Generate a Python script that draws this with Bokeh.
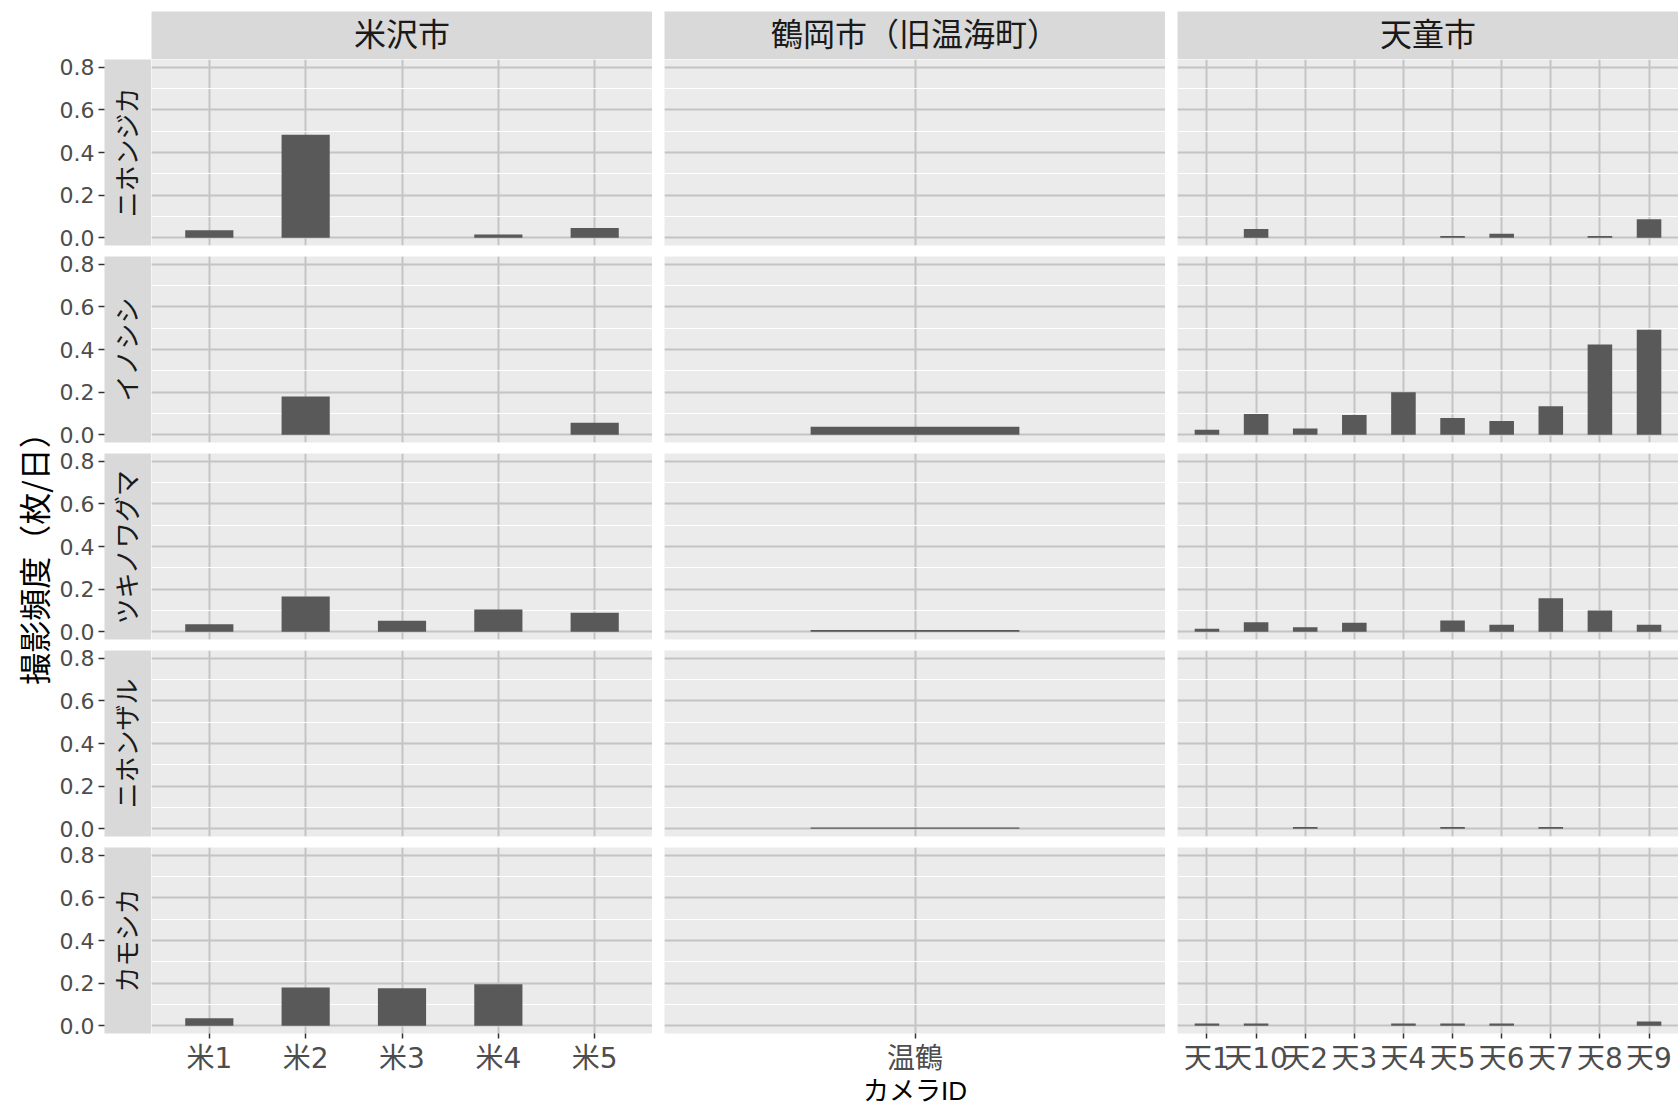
import math
from bokeh.plotting import figure
from bokeh.models import (Range1d, FactorRange, FixedTicker, LinearAxis, CategoricalAxis,
                          PrintfTickFormatter)
from bokeh.layouts import row, column
from bokeh.embed import file_html
from bokeh.resources import INLINE
from bokeh.core.properties import value

# ---------------- data ----------------
areas = ["米沢市", "鶴岡市（旧温海町）", "天童市"]
species = ["ニホンジカ", "イノシシ", "ツキノワグマ", "ニホンザル", "カモシカ"]

cams_yonezawa = ["米1", "米2", "米3", "米4", "米5"]
cams_tsuruoka = ["温鶴"]
cams_tendo = ["天1", "天10", "天2", "天3", "天4", "天5", "天6", "天7", "天8", "天9"]

# rows follow `species`
yonezawa_sika = [0.036, 0.483, 0.0, 0.016, 0.046]
yonezawa_inoshishi = [0.0, 0.180, 0.0, 0.0, 0.057]
yonezawa_kuma = [0.036, 0.166, 0.052, 0.105, 0.089]
yonezawa_saru = [0.0, 0.0, 0.0, 0.0, 0.0]
yonezawa_kamoshika = [0.036, 0.180, 0.176, 0.195, 0.0]

tsuruoka_sika = [0.0]
tsuruoka_inoshishi = [0.038]
tsuruoka_kuma = [0.008]
tsuruoka_saru = [0.006]
tsuruoka_kamoshika = [0.0]

tendo_sika = [0.0, 0.041, 0.0, 0.0, 0.0, 0.008, 0.019, 0.0, 0.008, 0.087]
tendo_inoshishi = [0.024, 0.098, 0.030, 0.093, 0.200, 0.079, 0.065, 0.134, 0.424, 0.493]
tendo_kuma = [0.014, 0.045, 0.022, 0.042, 0.0, 0.053, 0.033, 0.157, 0.100, 0.033]
tendo_saru = [0.0, 0.0, 0.008, 0.0, 0.0, 0.008, 0.0, 0.008, 0.0, 0.0]
tendo_kamoshika = [0.011, 0.011, 0.0, 0.0, 0.011, 0.011, 0.011, 0.0, 0.0, 0.020]

y_ticks = [0.0, 0.2, 0.4, 0.6, 0.8]
y_minor = [0.1, 0.3, 0.5, 0.7]
y_title = "撮影頻度（枚/日）"
x_title = "カメラID"

col_cats = [cams_yonezawa, cams_tsuruoka, cams_tendo]
col_vals = [
    [yonezawa_sika, yonezawa_inoshishi, yonezawa_kuma, yonezawa_saru, yonezawa_kamoshika],
    [tsuruoka_sika, tsuruoka_inoshishi, tsuruoka_kuma, tsuruoka_saru, tsuruoka_kamoshika],
    [tendo_sika, tendo_inoshishi, tendo_kuma, tendo_saru, tendo_kamoshika],
]

# ---------------- geometry / style ----------------
CJK = "Noto Sans CJK JP"
NUM = "DejaVu Sans, Noto Sans CJK JP"
LAT = "Liberation Sans, Noto Sans CJK JP"
Y0, Y1 = -0.036, 0.836
PANEL_W, PANEL_H = 501, 186
GAP = 12
STRIP_W = 47
TITLE_W = 56
AXIS_W = 48
STRIP_TOP = 11
TOP_STRIP_H = 48
TOP_B, BOT_B, LAST_B = 5, 6, 71
PANEL_BG = "#EBEBEB"
STRIP_BG = "#D9D9D9"
GRID_MAJOR = "#C4C4C4"
BAR = "#595959"

N = len(species)
FIRST_TOP = STRIP_TOP + TOP_STRIP_H
TOTAL_H = FIRST_TOP + N * PANEL_H + (N - 1) * (TOP_B + BOT_B) + LAST_B


def tops(r):
    return FIRST_TOP if r == 0 else TOP_B


def bottoms(r):
    return LAST_B if r == N - 1 else BOT_B


def base_fig(**kw):
    p = figure(toolbar_location=None, output_backend="svg",
               x_axis_location=None, y_axis_location=None, **kw)
    p.outline_line_color = None
    p.border_fill_color = "white"
    return p


def y_title_fig():
    t = base_fig(x_range=Range1d(0, TITLE_W), y_range=Range1d(0, TOTAL_H),
                 frame_width=TITLE_W, frame_height=TOTAL_H,
                 min_border_left=0, min_border_right=0, min_border_top=0, min_border_bottom=0,
                 background_fill_color="white")
    t.grid.visible = False
    panels_mid = FIRST_TOP + (N * PANEL_H + (N - 1) * (TOP_B + BOT_B)) / 2 + 4
    t.text(x=[32], y=[TOTAL_H - panels_mid], text=[y_title], angle=math.pi / 2,
           text_align="center", text_baseline="middle",
           text_font=value(CJK), text_font_size="32px", text_color="black")
    return t


def top_strip(name, col):
    t = base_fig(x_range=Range1d(0, 1), y_range=Range1d(0, 1),
                 frame_width=PANEL_W, frame_height=TOP_STRIP_H,
                 min_border_left=0 if col == 0 else GAP, min_border_right=0,
                 min_border_top=STRIP_TOP, min_border_bottom=0,
                 background_fill_color=STRIP_BG)
    t.grid.visible = False
    t.text(x=[0.5], y=[0.5], text=[name], text_align="center", text_baseline="middle",
           y_offset=-4,
           text_font=value(CJK), text_font_size="32px", text_color="#1A1A1A")
    return t


def row_strip(name, r):
    s = base_fig(x_range=Range1d(0, 1), y_range=Range1d(Y0, Y1),
                 frame_width=STRIP_W, frame_height=PANEL_H,
                 min_border_left=AXIS_W, min_border_right=0,
                 min_border_top=tops(r), min_border_bottom=bottoms(r),
                 background_fill_color=STRIP_BG)
    s.grid.visible = False
    ax = LinearAxis(ticker=FixedTicker(ticks=y_ticks, minor_ticks=[]),
                    formatter=PrintfTickFormatter(format="%.1f"))
    ax.axis_line_color = None
    ax.major_tick_in = 0
    ax.major_tick_out = 6
    ax.minor_tick_out = 0
    ax.minor_tick_in = 0
    ax.major_tick_line_color = "#333333"
    ax.major_tick_line_width = 1.5
    ax.major_label_standoff = 4
    ax.major_label_text_font = NUM
    ax.major_label_text_font_size = "22px"
    ax.major_label_text_color = "#4D4D4D"
    s.add_layout(ax, "left")
    s.text(x=[0.5], y=[(Y0 + Y1) / 2], text=[name], angle=math.pi / 2,
           text_align="center", text_baseline="middle", x_offset=-3,
           text_font=value(CJK), text_font_size="26px", text_color="#1A1A1A")
    return s


def panel(cats, vals, col, r):
    last = r == N - 1
    p = base_fig(x_range=FactorRange(factors=cats, range_padding=0.1,
                                     range_padding_units="absolute"),
                 y_range=Range1d(Y0, Y1),
                 frame_width=PANEL_W, frame_height=PANEL_H,
                 min_border_left=0 if col == 0 else GAP, min_border_right=0,
                 min_border_top=0 if r == 0 else TOP_B, min_border_bottom=bottoms(r),
                 background_fill_color=PANEL_BG)
    p.ygrid.ticker = FixedTicker(ticks=y_ticks, minor_ticks=y_minor)
    p.ygrid.grid_line_color = GRID_MAJOR
    p.ygrid.grid_line_width = 2
    p.ygrid.minor_grid_line_color = "white"
    p.ygrid.minor_grid_line_width = 1.2
    p.xgrid.grid_line_color = GRID_MAJOR
    p.xgrid.grid_line_width = 2
    p.vbar(x=cats, top=vals, bottom=0, width=0.5, fill_color=BAR, line_color=None)
    if last:
        ax = CategoricalAxis()
        ax.axis_line_color = None
        ax.major_tick_in = 0
        ax.major_tick_out = 5
        ax.major_tick_line_color = "#333333"
        ax.major_tick_line_width = 1.5
        ax.major_label_standoff = 3
        ax.major_label_text_font = NUM
        ax.major_label_text_font_size = "28px"
        ax.major_label_text_color = "#4D4D4D"
        if col == 1:
            ax.axis_label = x_title
            ax.axis_label_text_font = LAT
            ax.axis_label_text_font_size = "26px"
            ax.axis_label_text_font_style = "normal"
            ax.axis_label_text_color = "black"
            ax.axis_label_standoff = -2
        p.add_layout(ax, "below")
    return p


cols = [y_title_fig(), column(*[row_strip(sp, r) for r, sp in enumerate(species)], spacing=0)]
for c, area in enumerate(areas):
    items = [top_strip(area, c)]
    for r in range(N):
        items.append(panel(col_cats[c], col_vals[c][r], c, r))
    cols.append(column(*items, spacing=0))

layout = row(*cols, spacing=0)

open("out.html", "w").write(file_html(layout, INLINE))
